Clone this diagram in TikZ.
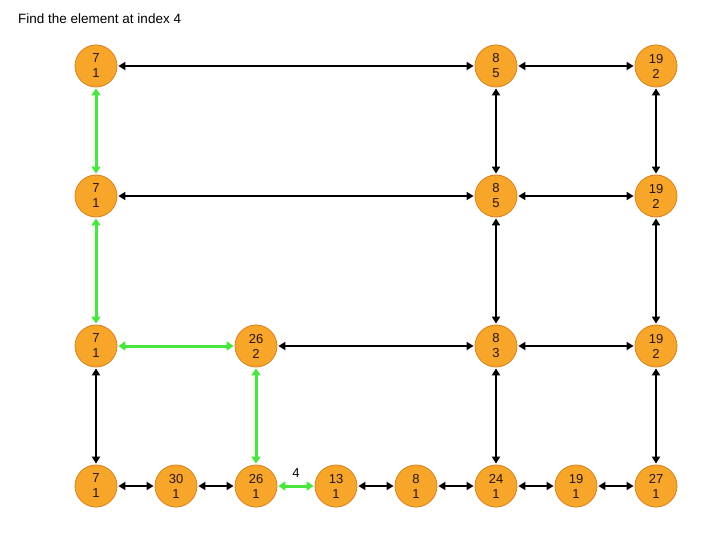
\documentclass[tikz,border=0pt]{standalone}
\usepackage{fontspec}
\setmainfont{Liberation Sans}
\usetikzlibrary{arrows.meta}
\definecolor{nodefill}{RGB}{247,166,42}
\definecolor{nodeline}{RGB}{214,128,30}
\definecolor{pathgreen}{RGB}{70,230,60}
\definecolor{txt}{RGB}{40,20,10}
\tikzset{
  elem/.style={circle,draw=nodeline,fill=nodefill,line width=0.8pt,minimum size=42pt,inner sep=0pt,
    align=center,text=txt,font=\fontsize{13}{15}\selectfont},
  link/.style={line width=2pt,black,{Triangle[length=7pt,width=8pt]}-{Triangle[length=7pt,width=8pt]},shorten <=1pt,shorten >=1pt},
  glink/.style={link,draw=pathgreen,line width=3pt,{Triangle[length=7pt,width=9pt]}-{Triangle[length=7pt,width=9pt]}}
}
\begin{document}
\begin{tikzpicture}[x=1pt,y=-1pt]
\useasboundingbox (0,0) rectangle (720,540);
\node[anchor=base west,font=\fontsize{13.5}{15}\selectfont,inner sep=0pt] (title) at (18,24) {Find the element at index 4};
% row 1
\node[elem] (a1) at (96,66) {7\\1};
\node[elem] (a2) at (496,66) {8\\5};
\node[elem] (a3) at (656,66) {19\\2};
% row 2
\node[elem] (b1) at (96,196) {7\\1};
\node[elem] (b2) at (496,196) {8\\5};
\node[elem] (b3) at (656,196) {19\\2};
% row 3
\node[elem] (c1) at (96,346) {7\\1};
\node[elem] (c2) at (256,346) {26\\2};
\node[elem] (c3) at (496,346) {8\\3};
\node[elem] (c4) at (656,346) {19\\2};
% row 4
\node[elem] (d1) at (96,486) {7\\1};
\node[elem] (d2) at (176,486) {30\\1};
\node[elem] (d3) at (256,486) {26\\1};
\node[elem] (d4) at (336,486) {13\\1};
\node[elem] (d5) at (416,486) {8\\1};
\node[elem] (d6) at (496,486) {24\\1};
\node[elem] (d7) at (576,486) {19\\1};
\node[elem] (d8) at (656,486) {27\\1};
% horizontal
\draw[link] (a1) -- (a2);
\draw[link] (a2) -- (a3);
\draw[link] (b1) -- (b2);
\draw[link] (b2) -- (b3);
\draw[glink] (c1) -- (c2);
\draw[link] (c2) -- (c3);
\draw[link] (c3) -- (c4);
\draw[link] (d1) -- (d2);
\draw[link] (d2) -- (d3);
\draw[glink] (d3) -- node[above=4pt,font=\fontsize{13}{14}\selectfont,text=black] (lbl) {4} (d4);
\draw[link] (d4) -- (d5);
\draw[link] (d5) -- (d6);
\draw[link] (d6) -- (d7);
\draw[link] (d7) -- (d8);
% vertical
\draw[glink] (a1) -- (b1);
\draw[glink] (b1) -- (c1);
\draw[link] (c1) -- (d1);
\draw[glink] (c2) -- (d3);
\draw[link] (a2) -- (b2);
\draw[link] (b2) -- (c3);
\draw[link] (c3) -- (d6);
\draw[link] (a3) -- (b3);
\draw[link] (b3) -- (c4);
\draw[link] (c4) -- (d8);
\end{tikzpicture}
\end{document}
